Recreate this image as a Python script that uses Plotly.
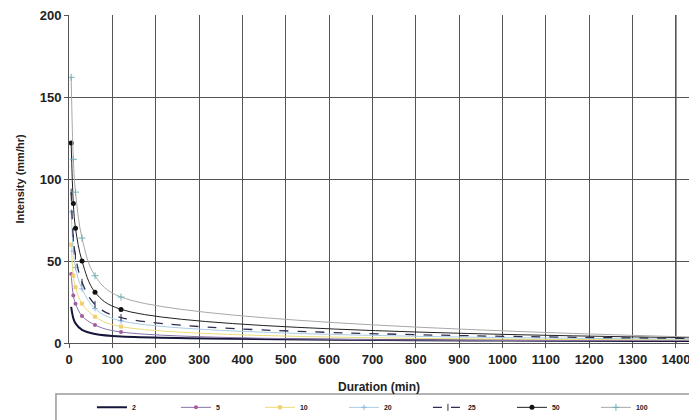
import plotly.graph_objects as go

durations = [5, 10, 15, 30, 60, 120, 1440]
series_names = ["2", "5", "10", "20", "25", "50", "100"]
i2 = [22, 15, 12, 8, 5.5, 4, 1.2]
i5 = [42, 29, 24, 16.5, 11, 6.7, 1.5]
i10 = [60, 41, 34, 24, 16, 10, 2]
i20 = [80, 56, 46, 33, 21, 13.5, 2.4]
i25 = [92, 64, 53, 37, 23.5, 15.5, 2.8]
i50 = [122, 85, 70, 50, 31, 20.5, 3.2]
i100 = [162, 112, 92, 64, 41, 28, 3.6]
x_ticks = [0, 100, 200, 300, 400, 500, 600, 700, 800, 900, 1000, 1100, 1200, 1300, 1400]
y_ticks = [0, 50, 100, 150, 200]

values = [i2, i5, i10, i20, i25, i50, i100]
styles = [
    dict(line=dict(color="#16163a", width=2), mode="lines", marker=dict()),
    dict(line=dict(color="#8a74a8", width=1), mode="lines+markers",
         marker=dict(symbol="circle", size=4, color="#a65a9e")),
    dict(line=dict(color="#ecdc78", width=1), mode="lines+markers",
         marker=dict(symbol="square", size=4, color="#f0d070")),
    dict(line=dict(color="#a9cce4", width=1), mode="lines+markers",
         marker=dict(symbol="cross-thin-open", size=4, color="#8fb8da", line=dict(width=1, color="#8fb8da"))),
    dict(line=dict(color="#2e2e52", width=1.3, dash="dash"), mode="lines+markers",
         marker=dict(symbol="line-ns-open", size=5, color="#2e2e52", line=dict(width=1, color="#2e2e52"))),
    dict(line=dict(color="#222222", width=1), mode="lines+markers",
         marker=dict(symbol="circle", size=5, color="#111111")),
    dict(line=dict(color="#a8a8a8", width=1), mode="lines+markers",
         marker=dict(symbol="cross-thin-open", size=5, color="#6fb0b8", line=dict(width=1, color="#6fb0b8"))),
]

fig = go.Figure()
for name, vals, st in zip(series_names, values, styles):
    fig.add_trace(go.Scatter(x=durations, y=vals, name=name, mode=st["mode"],
                             line=st["line"], marker=st["marker"], line_shape="spline"))

font_family = "Liberation Sans Narrow, Liberation Sans, Arial"
fig.update_layout(
    width=689, height=420,
    margin=dict(l=69, r=0, t=15, b=77, autoexpand=False),
    plot_bgcolor="white", paper_bgcolor="white",
    font=dict(family=font_family, color="#222222"),
    xaxis=dict(range=[0, 1430], tickmode="array", tickvals=x_ticks, automargin=False,
               ticklabeloverflow="allow",
               showgrid=True, gridcolor="#555555", gridwidth=1,
               showline=True, linecolor="#555555", linewidth=1,
               ticks="outside", ticklen=4, tickcolor="#555555",
               tickfont=dict(size=13, weight="bold", family=font_family),
               zeroline=False),
    yaxis=dict(range=[0, 200], tickmode="array", tickvals=y_ticks, automargin=False,
               showgrid=True, gridcolor="#555555", gridwidth=1,
               showline=True, linecolor="#555555", linewidth=1,
               ticks="outside", ticklen=4, tickcolor="#555555",
               tickfont=dict(size=13, weight="bold", family=font_family),
               title=dict(text="<b>Intensity (mm/hr)</b>", font=dict(size=11, family="Liberation Sans"), standoff=12),
               zeroline=False),
    legend=dict(orientation="h", x=0.037, xanchor="left", y=-0.152, yanchor="top",
                borderwidth=0, bgcolor="rgba(0,0,0,0)",
                font=dict(size=7, weight="bold"),
                entrywidth=39, entrywidthmode="pixels", itemwidth=30),
    shapes=[dict(type="rect", xref="paper", yref="paper", x0=-0.021, x1=1.02, y0=-0.26, y1=-0.1555,
                 line=dict(color="#999999", width=1.5), fillcolor="rgba(0,0,0,0)", layer="below"),
            dict(type="line", xref="x", yref="y", x0=x_ticks[-1], x1=x_ticks[-1], y0=y_ticks[0], y1=y_ticks[-1],
                 line=dict(color="#555555", width=1.2), layer="between")],
    annotations=[dict(text="<b>Duration (min)</b>", x=0.5, xref="paper", y=-0.108, yref="paper",
                      yanchor="top", showarrow=False, font=dict(size=12, family=font_family))],
)

fig.write_html("out.html")
